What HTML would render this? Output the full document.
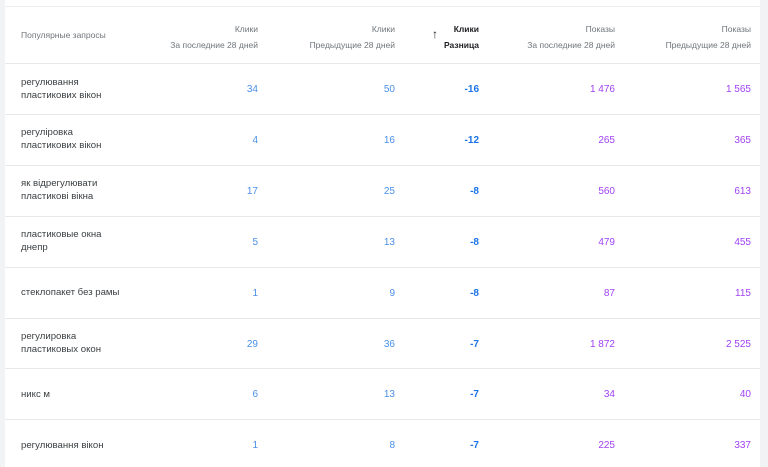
<!DOCTYPE html><html><head><style>
body{margin:0;width:768px;height:458px;background:#f1f3f4;font-family:"Liberation Sans",Arial,sans-serif;overflow:hidden;position:relative}
.card{position:absolute;left:5px;top:7px;width:755px;height:460px;background:#fff}
.topline{position:absolute;left:5px;top:0;width:755px;height:6px;background:#fff;border-bottom:1px solid #eceff1}
.row{position:absolute;left:5px;width:755px;border-top:1px solid #e6e8ea}
.c{position:absolute;font-size:10px;text-align:right;white-space:nowrap}
.q{position:absolute;left:21px;font-size:9.6px;color:#3c4043;line-height:13px}
.h{position:absolute;font-size:8.5px;color:#70757a;text-align:right;line-height:16px}
.b{color:#4a8fe7}.d{color:#1a73e8;font-weight:bold}.p{color:#a142f4}
</style></head><body>
<div class="topline"></div>
<div class="card"></div>
<div class="h" style="left:21px;top:27px;text-align:left">Популярные запросы</div>
<div class="h" style="right:510px;top:21px">Клики<br>За последние 28 дней</div>
<div class="h" style="right:373px;top:21px">Клики<br>Предыдущие 28 дней</div>
<div class="h" style="right:289px;top:21px;color:#202124;font-weight:bold">Клики<br>Разница</div>
<div style="position:absolute;left:432px;top:27px;font-size:12px;font-weight:bold;color:#202124">↑</div>
<div class="h" style="right:153px;top:21px">Показы<br>За последние 28 дней</div>
<div class="h" style="right:17px;top:21px">Показы<br>Предыдущие 28 дней</div>
<div id="rows"></div>
<script>
var d=[["регулювання<br>пластикових вікон",34,50,-16,"1 476","1 565"],["регуліровка<br>пластикових вікон",4,16,-12,"265","365"],["як відрегулювати<br>пластикові вікна",17,25,-8,"560","613"],["пластиковые окна<br>днепр",5,13,-8,"479","455"],["стеклопакет без рамы",1,9,-8,"87","115"],["регулировка<br>пластиковых окон",29,36,-7,"1 872","2 525"],["никс м",6,13,-7,"34","40"],["регулювання вікон",1,8,-7,"225","337"]];
var h="";
d.forEach(function(r,i){var t=63+i*50.9;var cy=t+26;
h+='<div class="row" style="top:'+t+'px"></div>';
var two=r[0].indexOf("<br>")>0;
h+='<div class="q" style="top:'+(cy-(two?13.5:6.5))+'px">'+r[0]+'</div>';
var cols=[[510,"b",r[1]],[373,"b",r[2]],[289,"d",r[3]],[153,"p",r[4]],[17,"p",r[5]]];
cols.forEach(function(c){h+='<div class="c '+c[1]+'" style="right:'+c[0]+'px;top:'+(cy-5)+'px">'+c[2]+'</div>';});
});
document.getElementById("rows").innerHTML=h;
</script>
</body></html>
